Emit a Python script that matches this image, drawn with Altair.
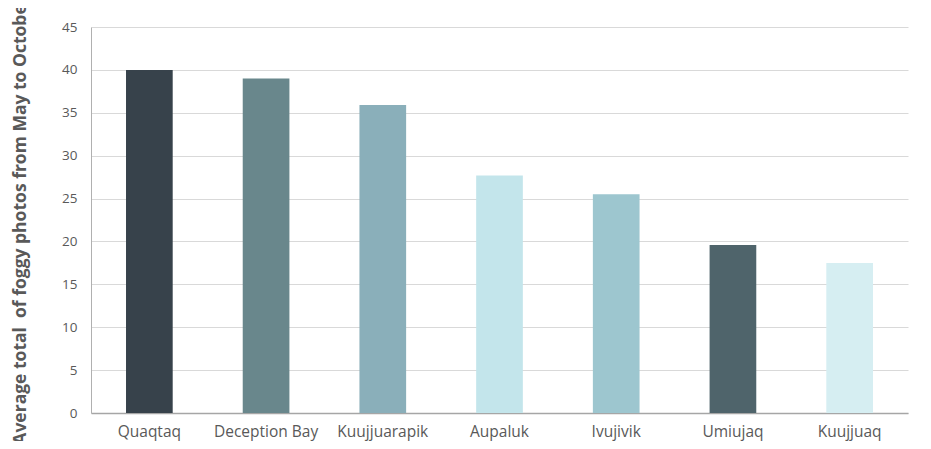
import altair as alt
import pandas as pd

sites = ["Quaqtaq", "Deception Bay", "Kuujjuarapik", "Aupaluk", "Ivujivik", "Umiujaq", "Kuujjuaq"]
values = [40.0, 39.0, 35.9, 27.7, 25.5, 19.6, 17.5]
colors = ["#37424b", "#69878c", "#8aafba", "#c3e5eb", "#9dc6cf", "#4f646b", "#d6eef2"]
y_ticks = [0, 5, 10, 15, 20, 25, 30, 35, 40, 45]

df = pd.DataFrame({"site": sites, "value": values})

font = "Open Sans"

chart = alt.Chart(df).mark_bar().encode(
    x=alt.X("site:N", sort=sites,
            scale=alt.Scale(paddingInner=0.6, paddingOuter=0.3),
            axis=alt.Axis(title=None, labelAngle=0, ticks=False, grid=False,
                          domainColor="#a6a6a6", domainWidth=1.5,
                          labelPadding=11, labelFontSize=15.5, labelColor="#595959",
                          labelFont=font)),
    y=alt.Y("value:Q", scale=alt.Scale(domain=[0, 45], nice=False),
            axis=alt.Axis(values=y_ticks, ticks=False, domainColor="#b0b0b0",
                          gridColor="#d9d9d9", labelPadding=14, labelFontSize=13.5,
                          labelColor="#595959", labelFont=font,
                          title="Average total\u00a0 of foggy photos from May to October",
                          titleFont=font, titleFontSize=17.5, titleFontWeight="bold",
                          titleColor="#595959", titleAngle=270, titleX=-71, titleY=193,
                          titleAlign="center", titleBaseline="middle")),
    color=alt.Color("site:N", scale=alt.Scale(domain=sites, range=colors), legend=None),
).properties(
    width=817, height=386,
    autosize=alt.AutoSizeParams(type="none"),
    padding={"left": 83, "top": 19, "right": 10, "bottom": 28},
).configure_view(stroke=None)

chart.save("out.html", embed_options={"renderer": "svg", "actions": False})
